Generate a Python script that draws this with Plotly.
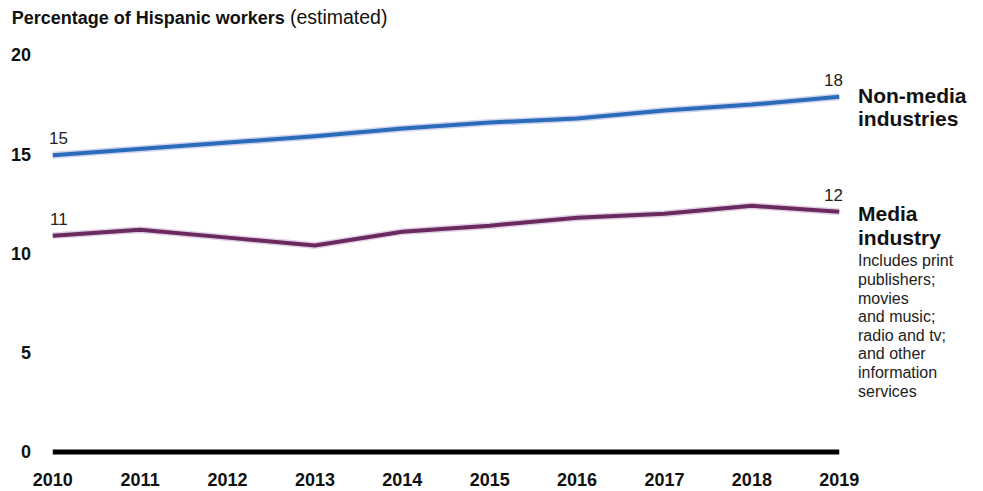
import plotly.graph_objects as go

years = [2010, 2011, 2012, 2013, 2014, 2015, 2016, 2017, 2018, 2019]
non_media = [14.95, 15.25, 15.6, 15.9, 16.3, 16.6, 16.8, 17.2, 17.5, 17.9]
media = [10.9, 11.2, 10.8, 10.4, 11.1, 11.4, 11.8, 12.0, 12.4, 12.1]
baseline = [0] * len(years)
y_ticks = [0, 5, 10, 15, 20]
non_media_label = ["Non-media", "industries"]
media_label = ["Media", "industry"]
media_note = ["Includes print", "publishers;", "movies", "and music;",
              "radio and tv;", "and other", "information", "services"]

FONT = "Liberation Sans"
BLUE = "#2b6cba"
BLUE_HALO = "rgba(150,160,220,0.45)"
PURPLE = "#6a2a5e"
PURPLE_HALO = "rgba(190,150,200,0.45)"

fig = go.Figure()
# halos
fig.add_trace(go.Scatter(x=years, y=non_media, mode="lines",
                         line=dict(color=BLUE_HALO, width=7), hoverinfo="skip"))
fig.add_trace(go.Scatter(x=years, y=media, mode="lines",
                         line=dict(color=PURPLE_HALO, width=7), hoverinfo="skip"))
# main lines
fig.add_trace(go.Scatter(x=years, y=non_media, mode="lines",
                         line=dict(color=BLUE, width=4)))
fig.add_trace(go.Scatter(x=years, y=media, mode="lines",
                         line=dict(color=PURPLE, width=4)))
# baseline
fig.add_trace(go.Scatter(x=years, y=baseline, mode="lines",
                         line=dict(color="black", width=5), hoverinfo="skip"))

# endpoint data labels
for series in (non_media, media):
    for i in (0, len(years) - 1):
        fig.add_annotation(x=years[i], y=series[i], text=str(round(series[i])),
                           showarrow=False, yanchor="bottom", yshift=5,
                           xanchor="center", xshift=6 if i == 0 else -6,
                           font=dict(family=FONT, size=17, color="#222"))

# series labels (one annotation per line for tight line spacing)
for k, line in enumerate(non_media_label):
    fig.add_annotation(x=1, xref="paper", y=non_media[-1], yref="y",
                       text=f"<b>{line}</b>", showarrow=False,
                       xanchor="left", yanchor="middle", xshift=8, yshift=1 - 23 * k,
                       font=dict(family=FONT, size=21, color="#111"))
for k, line in enumerate(media_label):
    fig.add_annotation(x=1, xref="paper", y=media[-1], yref="y",
                       text=f"<b>{line}</b>", showarrow=False,
                       xanchor="left", yanchor="middle", xshift=8, yshift=-2 - 24 * k,
                       font=dict(family=FONT, size=21, color="#111"))
for k, line in enumerate(media_note):
    fig.add_annotation(x=1, xref="paper", y=media[-1], yref="y",
                       text=line, showarrow=False,
                       xanchor="left", yanchor="middle", xshift=8, yshift=-49 - 18.6 * k,
                       font=dict(family=FONT, size=16, color="#222"))

fig.update_layout(
    width=983, height=491,
    margin=dict(l=44, r=135, t=49, b=33),
    paper_bgcolor="white", plot_bgcolor="white",
    showlegend=False,
    title=dict(text="<b>Percentage of Hispanic workers</b> <span style='font-size:19.5px'>(estimated)</span>",
               x=0.012, xanchor="left", y=0.963, yanchor="middle",
               font=dict(family=FONT, size=18, color="#111")),
    xaxis=dict(range=[2009.9, 2019.1], tickvals=years, ticktext=[str(y) for y in years],
               showgrid=False, zeroline=False, showline=False, ticks="",
               ticklabelstandoff=9, automargin=False,
               tickfont=dict(family=FONT, size=18, color="#111", weight="bold")),
    yaxis=dict(range=[-0.3, 20.3], tickvals=y_ticks, ticktext=[str(v) for v in y_ticks],
               showgrid=False, zeroline=False, showline=False, ticks="",
               ticklabelstandoff=12, automargin=False,
               tickfont=dict(family=FONT, size=18, color="#111", weight="bold")),
)

fig.write_html("out.html", config={"displayModeBar": False},
               post_script="document.body.style.margin='0';")
